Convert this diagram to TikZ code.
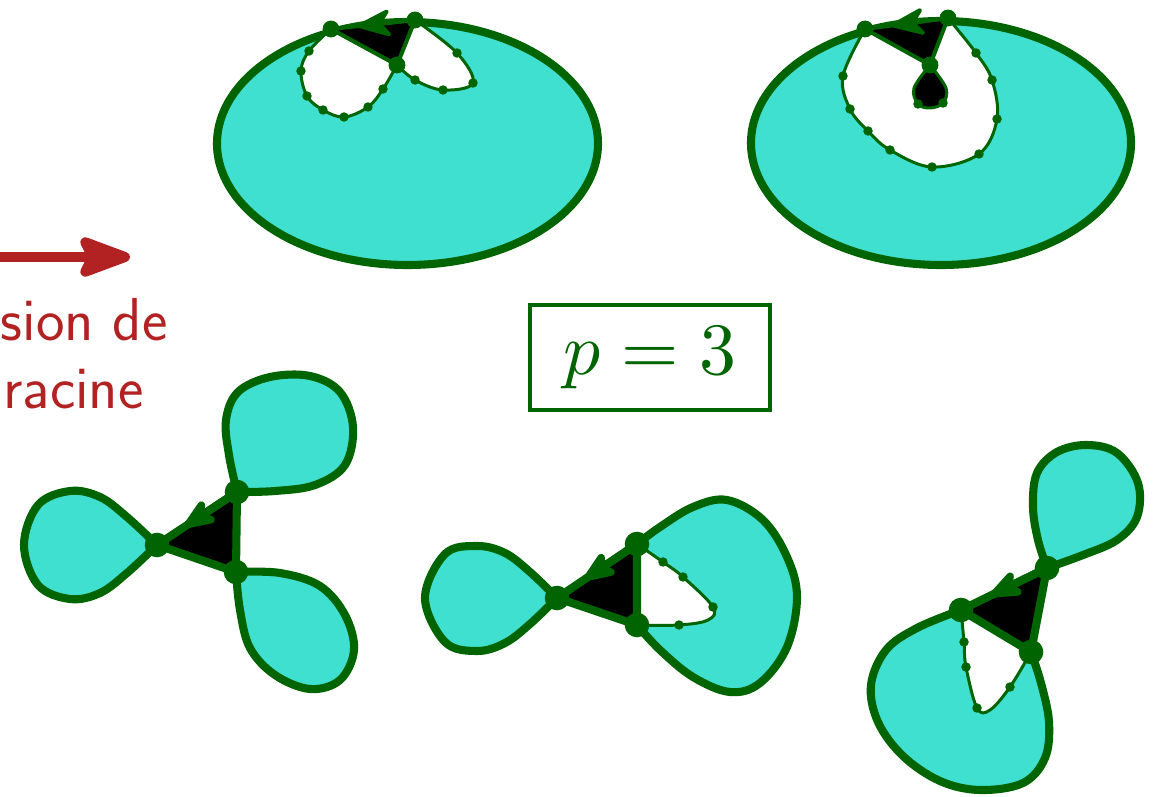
\documentclass[tikz,border=0pt]{standalone}
\usepackage{fontspec}
\usetikzlibrary{arrows.meta,calc}
\definecolor{turq}{HTML}{40E0D0}
\definecolor{dgreen}{HTML}{006400}
\definecolor{fred}{HTML}{B22222}
\tikzset{
  region/.style={fill=turq, draw=dgreen, line width=4.6pt, line join=round},
  hole/.style={fill=white, draw=dgreen, line width=1.7pt, line join=round},
  blackhole/.style={fill=black, draw=dgreen, line width=1.7pt, line join=round},
  toptri/.style={fill=black, draw=dgreen, line width=2.3pt, line join=round},
  bottri/.style={fill=black, draw=dgreen, line width=4.6pt, line join=round},
  toparrow/.style={draw=dgreen, line width=2.3pt, -{Stealth[length=23pt,width=18pt,inset=7pt,round]}},
  botarrow/.style={draw=dgreen, line width=4.6pt, -{Stealth[length=24pt,width=19pt,inset=7pt,round]}},
  redarrow/.style={draw=fred, line width=5.7pt, -{Stealth[length=36pt,width=26pt,inset=6pt,round]}},
  redtext/.style={text=fred, anchor=base east, inner sep=0pt, font=\fontsize{34.5}{40}\selectfont\sffamily},
  sm/.style={smooth, tension=0.6}
}
\begin{document}
\begin{tikzpicture}[x=0.02cm, y=-0.02cm]
\path[use as bounding box] (0,0) rectangle (1157,797);
\clip (0,0) rectangle (1157,797);

% ---------- left arrow and text ----------
\coordinate (ra) at (-10,257);
\coordinate (rb) at (130,257);
\draw[redarrow] (ra) -- (rb);
\node[redtext] (t1) at (168,340) {sion de};
\node[redtext] (t2) at (144,408) {racine};

% ---------- p = 3 box ----------
\node[draw=dgreen, line width=2.8pt, minimum width=4.8cm, minimum height=2.1cm, inner sep=0pt,
      text=dgreen] (pbox) at (650,357.5) {\raisebox{-3.4pt}{\scalebox{4.2}{$p=3$}}};

% ---------- top-left ----------
\coordinate (tlA) at (331,29);
\coordinate (tlB) at (415,20);
\coordinate (tlC) at (397,65);
\coordinate (l1) at (309,51);
\coordinate (l2) at (301,71);
\coordinate (l3) at (307,96);
\coordinate (l4) at (323,110);
\coordinate (l5) at (344,117);
\coordinate (l6) at (368,107);
\coordinate (l7) at (383,89);
\coordinate (r1) at (457,53);
\coordinate (r2) at (473,83);
\coordinate (r3) at (443,90);
\coordinate (r4) at (415,80);
\filldraw[region] (407.5,143.5) ellipse [x radius=190.5, y radius=121.5];
\filldraw[hole] plot[sm] coordinates {(tlA) (l1) (l2) (l3) (l4) (l5) (l6) (l7) (tlC)} -- cycle;
\filldraw[hole] plot[sm] coordinates {(tlB) (r1) (r2) (r3) (r4) (tlC)} -- cycle;
\filldraw[toptri] (tlA) -- (tlB) -- (tlC) -- cycle;
\draw[toparrow] (tlB) -- ($(tlB)!0.69!(tlA)$);
\foreach \p in {l1,l2,l3,l4,l5,l6,l7,r1,r2,r3,r4} \fill[dgreen] (\p) circle (2.7pt);
\foreach \p in {tlA,tlB,tlC} \fill[dgreen] (\p) circle (4.8pt);

% ---------- top-right ----------
\coordinate (trA) at (865,29);
\coordinate (trB) at (948,18);
\coordinate (trC) at (930,65);
\coordinate (m1) at (843,76);
\coordinate (m2) at (850,109);
\coordinate (m3) at (868,131);
\coordinate (m4) at (890,150);
\coordinate (m5) at (932,167);
\coordinate (m6) at (979,154);
\coordinate (m7) at (997,119);
\coordinate (m8) at (992,80);
\coordinate (m9) at (976,53);
\coordinate (d1) at (918,104);
\coordinate (d2) at (943,103);
\filldraw[region] (941,143) ellipse [x radius=190, y radius=122];
\filldraw[hole] plot[sm] coordinates {(trA) (m1) (m2) (m3) (m4) (m5) (m6) (m7) (m8) (m9) (trB)} -- cycle;
\filldraw[blackhole] plot[sm] coordinates {(trC) (914,88) (d1) (930,108) (d2) (946,88) (trC)} -- cycle;
\filldraw[toptri] (trA) -- (trB) -- (trC) -- cycle;
\draw[toparrow] (trB) -- ($(trB)!0.69!(trA)$);
\foreach \p in {m1,m2,m3,m4,m5,m6,m7,m8,m9,d1,d2} \fill[dgreen] (\p) circle (2.7pt);
\foreach \p in {trA,trB,trC} \fill[dgreen] (\p) circle (4.8pt);

% ---------- bottom figure 1 ----------
\coordinate (aL) at (157,545);
\coordinate (aT) at (237,492);
\coordinate (aB) at (236,572);
\filldraw[region] plot[sm] coordinates {(aL) (127,517) (100,497) (70,491) (38,505) (24,545) (38,585) (70,599) (100,593) (127,573) (aL)} -- cycle;
\filldraw[region] plot[sm] coordinates {(aT) (229,455) (226,420) (238,392) (270,377) (310,376) (340,392) (353,427) (345,465) (315,485) (275,491) (aT)} -- cycle;
\filldraw[region] plot[sm] coordinates {(aB) (280,573) (320,586) (345,615) (354,650) (340,680) (310,689) (275,675) (250,648) (240,610) (aB)} -- cycle;
\filldraw[bottri] (aL) -- (aT) -- (aB) -- cycle;
\draw[botarrow] (aT) -- ($(aT)!0.65!(aL)$);
\foreach \p in {aL,aT,aB} \fill[dgreen] (\p) circle (7pt);

% ---------- bottom figure 2 ----------
\coordinate (bL) at (557,598);
\coordinate (bT) at (637,544);
\coordinate (bB) at (637,625);
\coordinate (n1) at (663,562);
\coordinate (n2) at (683,577);
\coordinate (n3) at (713,607);
\coordinate (n4) at (679,625);
\filldraw[region] plot[sm] coordinates {(bL) (530,572) (505,553) (477,546) (445,554) (425,598) (445,642) (477,651) (505,643) (530,624) (bL)} -- cycle;
\filldraw[region] plot[sm] coordinates {(bT) (660,527) (693,507) (727,500) (763,520) (787,557) (797,597) (787,647) (760,683) (730,692) (693,677) (660,650) (bB)} -- cycle;
\filldraw[hole] plot[sm] coordinates {(bT) (n1) (n2) (n3) (708,620) (n4) (bB)} -- cycle;
\filldraw[bottri] (bL) -- (bT) -- (bB) -- cycle;
\draw[botarrow] (bT) -- ($(bT)!0.65!(bL)$);
\foreach \p in {n1,n2,n3,n4} \fill[dgreen] (\p) circle (2.7pt);
\foreach \p in {bL,bT,bB} \fill[dgreen] (\p) circle (7pt);

% ---------- bottom figure 3 ----------
\coordinate (cL) at (961,610);
\coordinate (cT) at (1047,568);
\coordinate (cB) at (1031,652);
\coordinate (o1) at (964,642);
\coordinate (o2) at (966,667);
\coordinate (o3) at (977,708);
\coordinate (o4) at (1010,687);
\filldraw[region] plot[sm] coordinates {(cT) (1038,540) (1033,507) (1037,473) (1057,452) (1087,445) (1117,453) (1138,483) (1137,517) (1117,540) (1083,555) (cT)} -- cycle;
\filldraw[region] plot[sm] coordinates {(cL) (917,628) (886,650) (871,685) (878,722) (903,756) (940,781) (980,790) (1023,783) (1045,758) (1049,722) (1041,683) (cB)} -- cycle;
\filldraw[hole] plot[sm] coordinates {(cL) (o1) (o2) (o3) (990,710) (o4) (cB)} -- cycle;
\filldraw[bottri] (cL) -- (cT) -- (cB) -- cycle;
\draw[botarrow] (cT) -- ($(cT)!0.65!(cL)$);
\foreach \p in {o1,o2,o3,o4} \fill[dgreen] (\p) circle (2.7pt);
\foreach \p in {cL,cT,cB} \fill[dgreen] (\p) circle (7pt);
\end{tikzpicture}
\end{document}
